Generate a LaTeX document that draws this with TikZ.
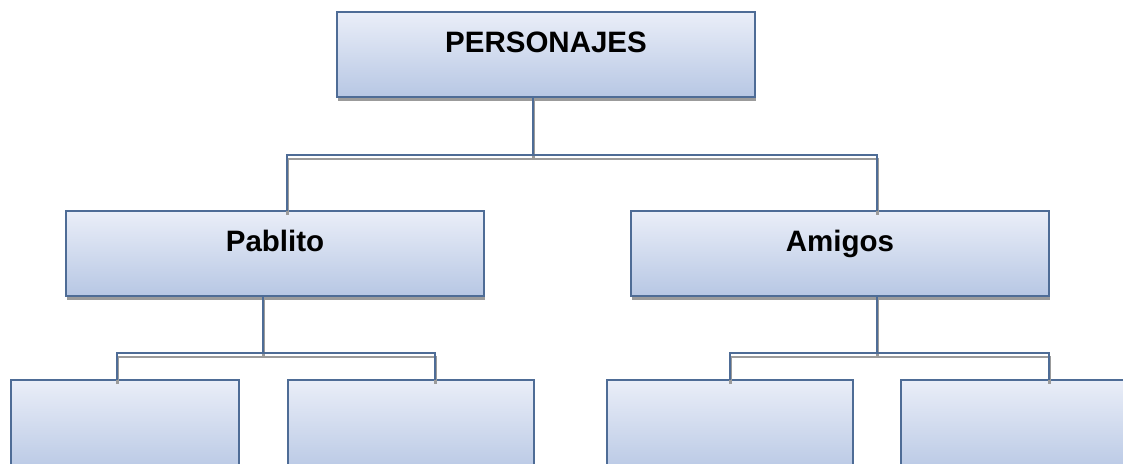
\documentclass[tikz,border=0pt]{standalone}
\usepackage{fontspec}
\setmainfont{Liberation Sans}
\usetikzlibrary{shadows}
\definecolor{bord}{RGB}{78,108,150}
\definecolor{ftop}{RGB}{234,238,248}
\definecolor{fbot}{RGB}{183,199,228}
\definecolor{shad}{RGB}{155,155,155}
\begin{document}
\begin{tikzpicture}[x=1pt,y=-1pt,
  box/.style={draw=bord, line width=2.3pt, rectangle, top color=ftop, bottom color=fbot,
    anchor=north west, inner sep=0pt, outer sep=0pt,
    drop shadow={shadow xshift=1pt, shadow yshift=-3.5pt, fill=shad, opacity=1}},
  lbl/.style={anchor=base, font=\bfseries\fontsize{29.5}{34}\selectfont, inner sep=0pt},
  conn/.style={draw=bord, line width=2.3pt},
  connsh/.style={draw=shad, line width=2.3pt, transform canvas={xshift=0.5pt,yshift=-4pt}}]
\useasboundingbox (0,0) rectangle (1123,463);
\clip (0,0) rectangle (1123,463);

\node[box, minimum width=418pt, minimum height=85pt] (top) at (337,12) {};
\node[lbl] (ttop) at (546,52) {PERSONAJES};
\node[box, minimum width=418pt, minimum height=85pt] (pab) at (66,211) {};
\node[lbl] (tpab) at (275,251) {Pablito};
\node[box, minimum width=418pt, minimum height=85pt] (ami) at (631,211) {};
\node[lbl] (tami) at (840,251) {Amigos};

\node[box, minimum width=228pt, minimum height=95pt] (c1) at (11,380) {};
\node[box, minimum width=246pt, minimum height=95pt] (c2) at (288,380) {};
\node[box, minimum width=246pt, minimum height=95pt] (c3) at (607,380) {};
\node[box, minimum width=246pt, minimum height=95pt] (c4) at (901,380) {};

\coordinate (j1) at (533,155);
\coordinate (j2) at (263,353);
\coordinate (j3) at (877,353);

\foreach \s in {connsh,conn}{
  \draw[\s] ([xshift=-13pt]top.south) -- (j1);
  \draw[\s] ([xshift=12pt]pab.north) |- (j1) -| ([xshift=37pt]ami.north);
  \draw[\s] ([xshift=-12pt]pab.south) -- (j2);
  \draw[\s] ([xshift=-8pt]c1.north) |- (j2) -| ([xshift=24pt]c2.north);
  \draw[\s] ([xshift=37pt]ami.south) -- (j3);
  \draw[\s] (c3.north) |- (j3) -| ([xshift=25pt]c4.north);
}
\end{tikzpicture}
\end{document}
